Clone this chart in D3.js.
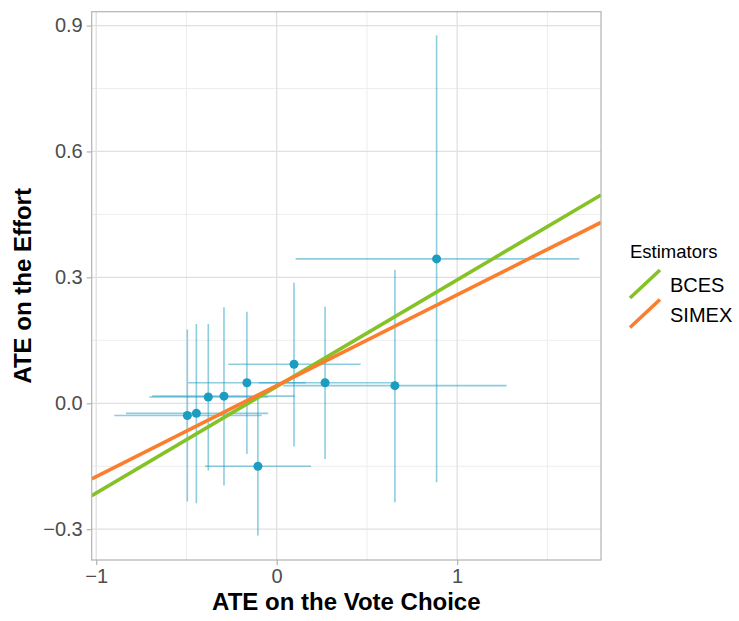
<!DOCTYPE html>
<html>
<head>
<meta charset="utf-8">
<script src="https://cdn.jsdelivr.net/npm/d3@7"></script>
<style>
  body { margin: 0; background: #fff; }
  text { font-family: "Liberation Sans", Arial, sans-serif; }
</style>
</head>
<body>
<svg id="chart" width="739" height="621"></svg>
<script>
// estimates per study
const xEst = [-0.495, -0.445, -0.379, -0.292, -0.165, -0.104, 0.096, 0.268, 0.655, 0.886];
const yEst = [-0.029, -0.024, 0.015, 0.017, 0.049, -0.150, 0.093, 0.049, 0.042, 0.344];
const xLo  = [-0.900, -0.835, -0.706, -0.690, -0.490, -0.397, -0.268, -0.100, 0.036, 0.105];
const xHi  = [-0.083, -0.047, -0.047, 0.101, 0.160, 0.190, 0.465, 0.656, 1.274, 1.677];
const yLo  = [-0.234, -0.238, -0.160, -0.196, -0.121, -0.315, -0.103, -0.133, -0.236, -0.188];
const yHi  = [0.176, 0.189, 0.189, 0.229, 0.218, 0.010, 0.287, 0.230, 0.318, 0.877];

// fitted lines
const estimators = ['BCES', 'SIMEX'];
const intercepts = [0.040, 0.042];
const slopes = [0.254, 0.2165];
const lineColors = ['#84c225', '#fb7d2d'];

const xTicks = [-1, 0, 1];
const yTicks = [-0.3, 0, 0.3, 0.6, 0.9];

const svg = d3.select('#chart');
const margin = { top: 11.7, right: 138, bottom: 61, left: 91.7 };
const W = 739, H = 621;
const width = W - margin.left - margin.right;
const height = H - margin.top - margin.bottom;

const x = d3.scaleLinear().domain([-1.025, 1.797]).range([0, width]);
const y = d3.scaleLinear().domain([-0.3734, 0.933]).range([height, 0]);

const g = svg.append('g').attr('transform', `translate(${margin.left},${margin.top})`);

svg.append('defs').append('clipPath').attr('id', 'clip')
  .append('rect').attr('width', width).attr('height', height);

// minor grid
const xMinor = [-0.5, 0.5, 1.5];
const yMinor = [-0.15, 0.15, 0.45, 0.75];
g.selectAll('.xminor').data(xMinor).enter().append('line')
  .attr('x1', d => x(d)).attr('x2', d => x(d)).attr('y1', 0).attr('y2', height)
  .attr('stroke', '#ededed').attr('stroke-width', 1);
g.selectAll('.yminor').data(yMinor).enter().append('line')
  .attr('y1', d => y(d)).attr('y2', d => y(d)).attr('x1', 0).attr('x2', width)
  .attr('stroke', '#ededed').attr('stroke-width', 1);
// major grid
g.selectAll('.xmajor').data(xTicks).enter().append('line')
  .attr('x1', d => x(d)).attr('x2', d => x(d)).attr('y1', 0).attr('y2', height)
  .attr('stroke', '#e0e0e0').attr('stroke-width', 1.3);
g.selectAll('.ymajor').data(yTicks).enter().append('line')
  .attr('y1', d => y(d)).attr('y2', d => y(d)).attr('x1', 0).attr('x2', width)
  .attr('stroke', '#e0e0e0').attr('stroke-width', 1.3);

const idx = d3.range(xEst.length);
const pointColor = '#1b9cc0';

// error bars
const plot = g.append('g').attr('clip-path', 'url(#clip)');
plot.selectAll('.vbar').data(idx).enter().append('line')
  .attr('x1', i => x(xEst[i])).attr('x2', i => x(xEst[i]))
  .attr('y1', i => y(yLo[i])).attr('y2', i => y(yHi[i]))
  .attr('stroke', pointColor).attr('stroke-opacity', 0.5).attr('stroke-width', 1.6);
plot.selectAll('.hbar').data(idx).enter().append('line')
  .attr('y1', i => y(yEst[i])).attr('y2', i => y(yEst[i]))
  .attr('x1', i => x(xLo[i])).attr('x2', i => x(xHi[i]))
  .attr('stroke', pointColor).attr('stroke-opacity', 0.5).attr('stroke-width', 1.6);

// fitted lines
const xd = x.domain();
plot.selectAll('.fit').data(estimators).enter().append('line')
  .attr('x1', x(xd[0])).attr('x2', x(xd[1]))
  .attr('y1', (d, i) => y(intercepts[i] + slopes[i] * xd[0]))
  .attr('y2', (d, i) => y(intercepts[i] + slopes[i] * xd[1]))
  .attr('stroke', (d, i) => lineColors[i]).attr('stroke-width', 3.6);

// points
plot.selectAll('.pt').data(idx).enter().append('circle')
  .attr('cx', i => x(xEst[i])).attr('cy', i => y(yEst[i])).attr('r', 4.5)
  .attr('fill', pointColor);

// panel border
g.append('rect').attr('width', width).attr('height', height)
  .attr('fill', 'none').attr('stroke', '#b3b3b3').attr('stroke-width', 1.2);

// axes
const fmtY = d => d3.format('.1f')(d).replace('-', '\u2212');
const fmtX = d => String(d).replace('-', '\u2212');
const xAxis = g.append('g').attr('transform', `translate(0,${height})`)
  .call(d3.axisBottom(x).tickValues(xTicks).tickFormat(fmtX).tickSize(5).tickPadding(4));
const yAxis = g.append('g')
  .call(d3.axisLeft(y).tickValues(yTicks).tickFormat(fmtY).tickSize(5).tickPadding(4));
[xAxis, yAxis].forEach(a => {
  a.select('.domain').remove();
  a.selectAll('.tick line').attr('stroke', '#b3b3b3').attr('stroke-width', 1.2);
  a.selectAll('.tick text').attr('fill', '#4d4d4d').style('font-size', '20px')
    .style('font-family', '"Liberation Sans", Arial, sans-serif');
});

// axis titles
svg.append('text').attr('x', margin.left + width / 2).attr('y', 610)
  .attr('text-anchor', 'middle').style('font-size', '24px').style('font-weight', 'bold')
  .text('ATE on the Vote Choice');
svg.append('text').attr('transform', `translate(31,${margin.top + height / 2}) rotate(-90)`)
  .attr('text-anchor', 'middle').style('font-size', '24px').style('font-weight', 'bold')
  .text('ATE on the Effort');

// legend
const leg = svg.append('g').attr('transform', 'translate(630,0)');
leg.append('text').attr('x', 0).attr('y', 258).style('font-size', '18.5px').text('Estimators');
estimators.forEach((name, i) => {
  const cy = 284 + i * 29.5;
  leg.append('line').attr('x1', 0).attr('x2', 30).attr('y1', cy + 14).attr('y2', cy - 14)
    .attr('stroke', lineColors[i]).attr('stroke-width', 3.6);
  leg.append('text').attr('x', 40).attr('y', cy + 8).style('font-size', '20px').text(name);
});
</script>
</body>
</html>
